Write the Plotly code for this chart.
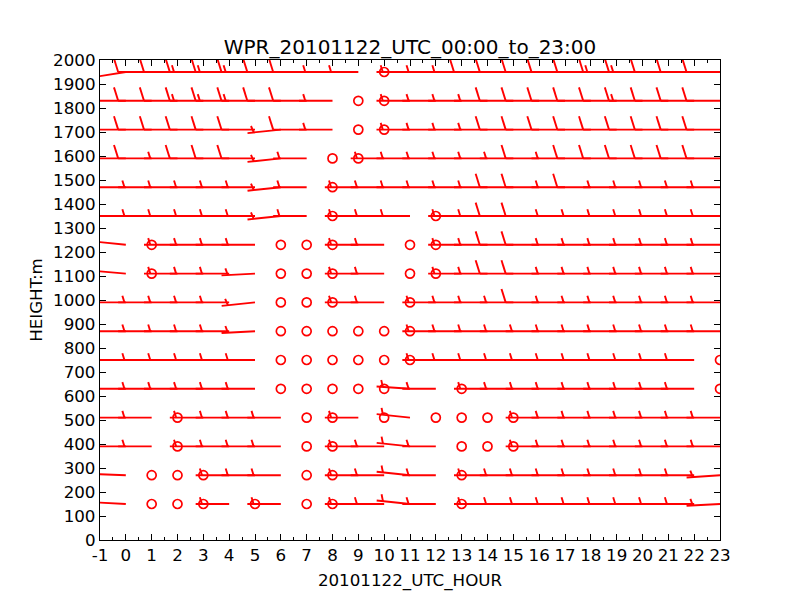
import math
import plotly.graph_objects as go

# ---------------- data ----------------
TITLE = "WPR_20101122_UTC_00:00_to_23:00"
X_LABEL = "20101122_UTC_HOUR"
Y_LABEL = "HEIGHT:m"
HOURS = list(range(24))
HEIGHTS = [150, 270, 390, 510, 630, 750, 870, 990, 1110, 1230, 1350, 1470, 1590, 1710, 1830, 1950]
X_TICKS = list(range(-1, 24))
Y_TICKS = list(range(0, 2001, 100))

# wind speed per height, hours 0..23 (0 = calm)
SPD_1950 = [10, 10, 10, 15, 15, 15, 10, 10, 5, 5, 0, 5, 5, 5, 10, 10, 10, 10, 10, 15, 15, 10, 10, 10]
SPD_1830 = [10, 10, 10, 15, 15, 15, 10, 10, 5, 0, 0, 5, 5, 5, 5, 10, 10, 10, 10, 10, 15, 10, 10, 10]
SPD_1710 = [10, 10, 10, 10, 10, 10, 5, 10, 5, 0, 0, 5, 5, 5, 5, 10, 10, 10, 10, 10, 10, 10, 10, 10]
SPD_1590 = [10, 10, 5, 10, 10, 10, 5, 5, 0, 0, 5, 5, 5, 5, 5, 5, 10, 5, 10, 10, 10, 10, 10, 10]
SPD_1470 = [5, 5, 5, 5, 5, 5, 5, 5, 0, 5, 5, 5, 5, 5, 5, 10, 10, 5, 10, 5, 5, 5, 5, 5]
SPD_1350 = [5, 5, 5, 5, 5, 5, 5, 5, 0, 5, 5, 5, 0, 5, 5, 10, 10, 5, 5, 5, 5, 5, 5, 5]
SPD_1230 = [5, 0, 5, 5, 5, 5, 0, 0, 0, 5, 5, 0, 0, 5, 5, 10, 10, 5, 5, 5, 5, 5, 5, 5]
SPD_1110 = [5, 0, 5, 5, 5, 5, 0, 0, 0, 5, 5, 0, 0, 5, 5, 10, 10, 5, 5, 5, 5, 5, 5, 5]
SPD_0990 = [5, 5, 5, 5, 5, 5, 0, 0, 0, 5, 5, 0, 5, 5, 5, 5, 10, 5, 5, 5, 5, 5, 5, 5]
SPD_0870 = [5, 5, 5, 5, 5, 5, 0, 0, 0, 0, 0, 0, 5, 5, 5, 5, 5, 5, 5, 5, 5, 5, 5, 5]
SPD_0750 = [5, 5, 5, 5, 5, 5, 0, 0, 0, 0, 0, 0, 5, 5, 5, 5, 5, 5, 5, 5, 5, 5, 5, 0]
SPD_0630 = [5, 5, 5, 5, 5, 5, 0, 0, 0, 0, 0, 5, 5, 0, 5, 5, 5, 5, 5, 5, 5, 5, 5, 0]
SPD_0510 = [5, 5, 0, 5, 5, 5, 5, 0, 0, 5, 0, 5, 0, 0, 0, 0, 5, 5, 5, 5, 5, 5, 5, 5]
SPD_0390 = [5, 5, 0, 5, 5, 5, 5, 0, 0, 5, 5, 5, 5, 0, 0, 0, 5, 5, 5, 5, 5, 5, 5, 5]
SPD_0270 = [5, 0, 0, 0, 5, 5, 5, 0, 0, 5, 5, 5, 5, 0, 5, 5, 5, 5, 5, 5, 5, 5, 5, 5]
SPD_0150 = [5, 0, 0, 0, 5, 0, 5, 0, 0, 5, 5, 5, 5, 0, 5, 5, 5, 5, 5, 5, 5, 5, 5, 5]

# wind direction (degrees, direction the wind blows from), hours 0..23
DIR_1950 = [261, 270, 270, 270, 270, 270, 270, 270, 270, 270, 270, 270, 270, 270, 270, 270, 270, 270, 270, 270, 270, 270, 270, 270]
DIR_1830 = [270, 270, 270, 270, 270, 270, 270, 270, 270, 270, 270, 270, 270, 270, 270, 270, 270, 270, 270, 270, 270, 270, 270, 270]
DIR_1710 = [270, 270, 270, 270, 270, 270, 264, 270, 270, 270, 270, 270, 270, 270, 270, 270, 270, 270, 270, 270, 270, 270, 270, 270]
DIR_1590 = [270, 270, 270, 270, 270, 270, 264, 270, 270, 270, 270, 270, 270, 270, 270, 270, 270, 270, 270, 270, 270, 270, 270, 270]
DIR_1470 = [270, 270, 270, 270, 270, 270, 264, 270, 270, 270, 270, 270, 270, 270, 270, 270, 270, 270, 270, 270, 270, 270, 270, 270]
DIR_1350 = [270, 270, 270, 270, 270, 270, 264, 270, 270, 270, 270, 270, 270, 270, 270, 270, 270, 270, 270, 270, 270, 270, 270, 270]
DIR_1230 = [276, 270, 270, 270, 270, 270, 270, 270, 270, 270, 270, 270, 270, 270, 270, 270, 270, 270, 270, 270, 270, 270, 270, 270]
DIR_1110 = [275, 270, 270, 270, 270, 267, 270, 270, 270, 270, 270, 270, 270, 270, 270, 270, 270, 270, 270, 270, 270, 270, 270, 270]
DIR_0990 = [270, 270, 270, 270, 270, 264, 270, 270, 270, 270, 270, 270, 270, 270, 270, 270, 270, 270, 270, 270, 270, 270, 270, 270]
DIR_0870 = [270, 270, 270, 270, 270, 267, 270, 270, 270, 270, 270, 270, 270, 270, 270, 270, 270, 270, 270, 270, 270, 270, 270, 270]
DIR_0750 = [270, 270, 270, 270, 270, 270, 270, 270, 270, 270, 270, 270, 270, 270, 270, 270, 270, 270, 270, 270, 270, 270, 270, 270]
DIR_0630 = [270, 270, 270, 270, 270, 270, 270, 270, 270, 270, 270, 274, 270, 270, 270, 270, 270, 270, 270, 270, 270, 270, 270, 270]
DIR_0510 = [270, 270, 270, 270, 270, 270, 270, 270, 270, 270, 270, 276, 270, 270, 270, 270, 270, 270, 270, 270, 270, 270, 270, 270]
DIR_0390 = [270, 270, 270, 270, 270, 270, 270, 270, 270, 270, 270, 276, 270, 270, 270, 270, 270, 270, 270, 270, 270, 270, 270, 270]
DIR_0270 = [272, 270, 270, 270, 270, 270, 270, 270, 270, 270, 270, 276, 270, 270, 270, 270, 270, 270, 270, 270, 270, 270, 270, 266]
DIR_0150 = [273, 270, 270, 270, 270, 270, 270, 270, 270, 270, 270, 276, 270, 270, 270, 270, 270, 270, 270, 270, 270, 270, 270, 267]

SPEEDS = [SPD_0150, SPD_0270, SPD_0390, SPD_0510, SPD_0630, SPD_0750, SPD_0870, SPD_0990,
          SPD_1110, SPD_1230, SPD_1350, SPD_1470, SPD_1590, SPD_1710, SPD_1830, SPD_1950]
DIRS = [DIR_0150, DIR_0270, DIR_0390, DIR_0510, DIR_0630, DIR_0750, DIR_0870, DIR_0990,
        DIR_1110, DIR_1230, DIR_1350, DIR_1470, DIR_1590, DIR_1710, DIR_1830, DIR_1950]

# ---------------- style / layout ----------------
W, H = 800, 600
M_L, M_R, M_T, M_B = 100, 80, 60, 60
X_RANGE = [-1, 23]
Y_RANGE = [0, 2000]
PLOT_W = W - M_L - M_R
PLOT_H = H - M_T - M_B
PX_PER_X = PLOT_W / (X_RANGE[1] - X_RANGE[0])
PX_PER_Y = PLOT_H / (Y_RANGE[1] - Y_RANGE[0])

BARB_LEN = 33.5          # px (matplotlib-style barb geometry)
FULL_H = 0.4 * BARB_LEN
FULL_W = 0.25 * BARB_LEN
SPACING = 0.125 * BARB_LEN
HALF, FULL, FLAG = 5, 10, 50
RED = "#ff0000"
FONT = "DejaVu Sans"


def barb_segments(x0, y0, spd, direction):
    """Return list of polylines (in data coords) for one wind barb."""
    u = -spd * math.sin(math.radians(direction))
    v = -spd * math.cos(math.radians(direction))
    theta = math.atan2(v, u) + math.pi / 2

    def to_data(px, py):
        xr = px * math.cos(theta) - py * math.sin(theta)
        yr = px * math.sin(theta) + py * math.cos(theta)
        return x0 + xr / PX_PER_X, y0 + yr / PX_PER_Y

    mag = HALF * round(spd / HALF)
    nflags = int(mag // FLAG)
    mag -= nflags * FLAG
    nbarbs = int(mag // FULL)
    mag -= nbarbs * FULL
    half = mag >= HALF

    segs = [[to_data(0, 0), to_data(0, BARB_LEN)]]
    offset = BARB_LEN
    for _ in range(nbarbs):
        segs.append([to_data(0, offset), to_data(FULL_H, offset + FULL_W / 2)])
        offset -= SPACING
    if half:
        if offset == BARB_LEN:
            offset -= 1.5 * SPACING
        segs.append([to_data(0, offset), to_data(FULL_H / 2, offset + FULL_W / 4)])
    return segs


bx, by = [], []
cx, cy = [], []
for hgt, spd_row, dir_row in zip(HEIGHTS, SPEEDS, DIRS):
    for hr, s, d in zip(HOURS, spd_row, dir_row):
        if s is None:
            continue
        if HALF * round(s / HALF) == 0:
            cx.append(hr)
            cy.append(hgt)
            continue
        for seg in barb_segments(hr, hgt, s, d):
            for px, py in seg:
                bx.append(px)
                by.append(py)
            bx.append(None)
            by.append(None)

fig = go.Figure()
fig.add_trace(go.Scatter(x=bx, y=by, mode="lines",
                         line=dict(color=RED, width=1.9),
                         hoverinfo="skip", showlegend=False))
fig.add_trace(go.Scatter(x=cx, y=cy, mode="markers",
                         marker=dict(symbol="circle-open", size=9, color=RED,
                                     line=dict(width=1.7, color=RED)),
                         cliponaxis=True, hoverinfo="skip", showlegend=False))

axis_common = dict(
    showline=True, linecolor="black", linewidth=1.3, mirror="ticks",
    ticks="inside", ticklen=6, tickwidth=1, tickcolor="black",
    showgrid=False, zeroline=False,
    tickfont=dict(family=FONT, size=16.7, color="black"),
)

fig.update_layout(
    width=W, height=H,
    margin=dict(l=M_L, r=M_R, t=M_T, b=M_B),
    paper_bgcolor="white", plot_bgcolor="white",
    title=dict(text=TITLE, x=(M_L + PLOT_W / 2) / W, xanchor="center",
               y=1 - 47 / H, yanchor="middle",
               font=dict(family=FONT, size=20, color="black")),
    xaxis=dict(range=X_RANGE, tickmode="array", tickvals=X_TICKS,
               ticktext=[str(t) for t in X_TICKS],
               minor=dict(ticks="inside", ticklen=3, dtick=0.5, tick0=-1, tickcolor="black"),
               title=dict(text=X_LABEL, font=dict(family=FONT, size=16.7, color="black"), standoff=10),
               **axis_common),
    yaxis=dict(range=Y_RANGE, tickmode="array", tickvals=Y_TICKS,
               title=dict(text=Y_LABEL, font=dict(family=FONT, size=16.7, color="black"), standoff=6),
               **axis_common),
)

fig.write_html("out.html", config={"displayModeBar": False},
               post_script="document.body.style.margin='0';")
